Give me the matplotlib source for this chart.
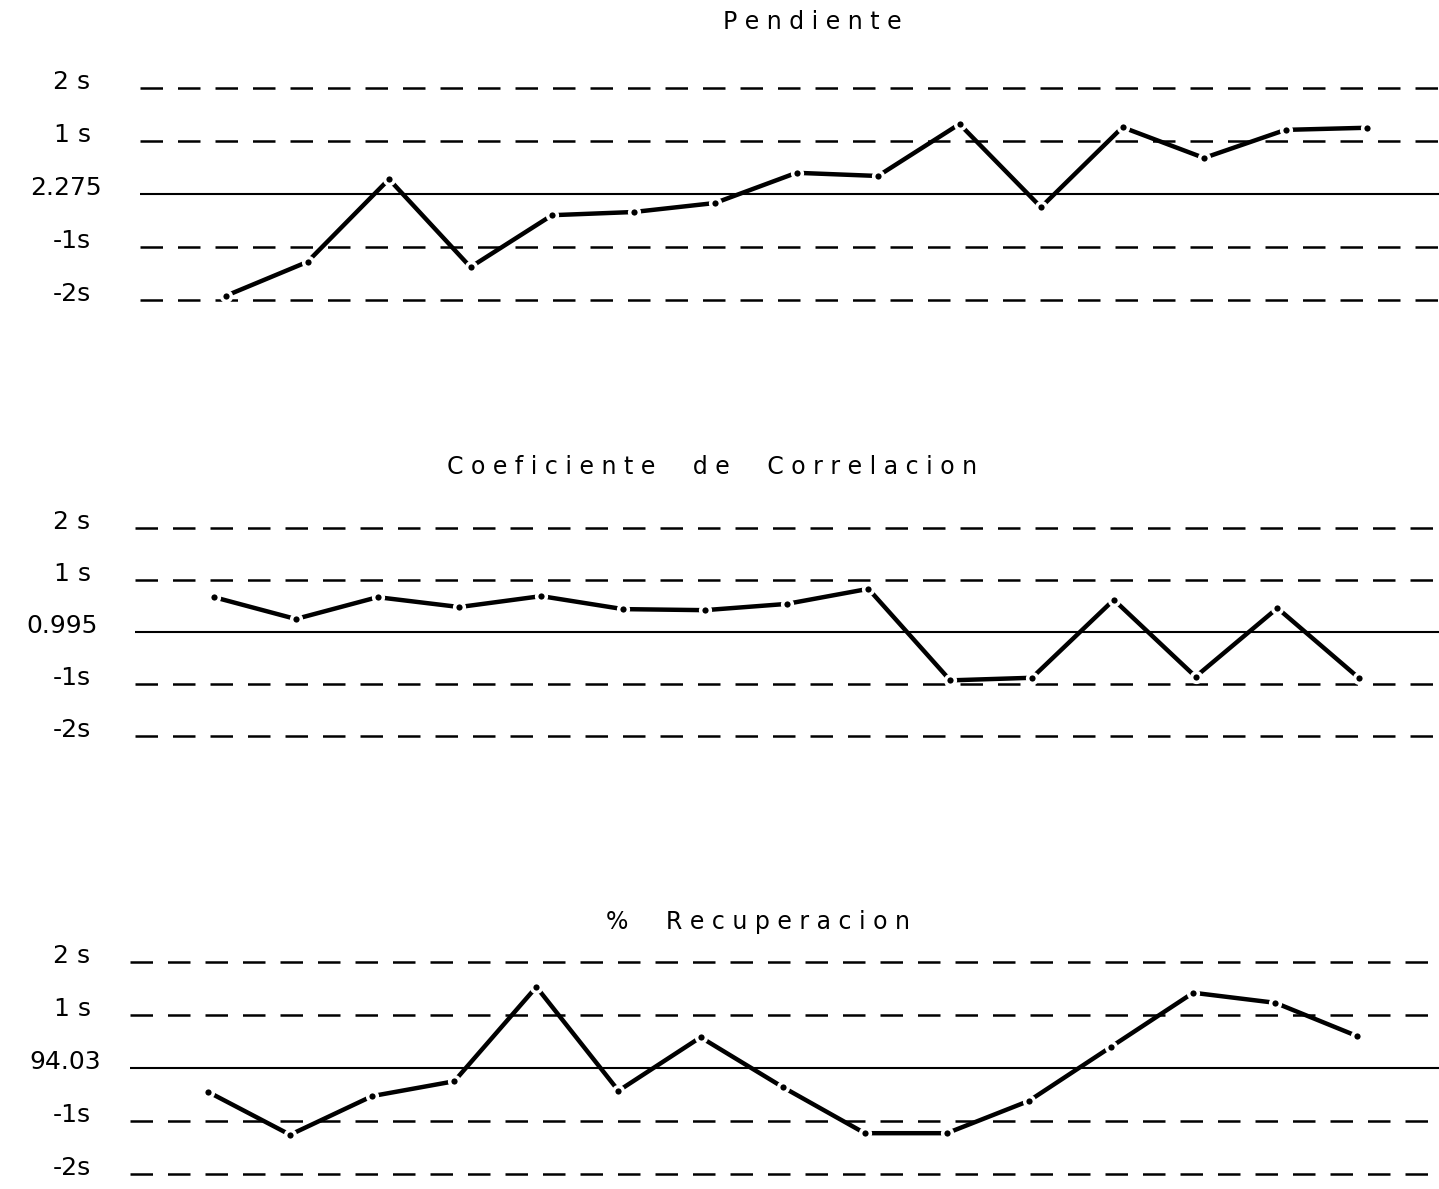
import numpy as np
import matplotlib
matplotlib.use('Agg')
import matplotlib.pyplot as plt
from matplotlib.transforms import blended_transform_factory

# control chart data, in units of s from the mean
puntos = np.arange(1, 16)

pendiente = [-1.92, -1.28, 0.28, -1.38, -0.40, -0.34, -0.17, 0.40, 0.34,
             1.32, -0.25, 1.26, 0.68, 1.21, 1.25]
correlacion = [0.67, 0.25, 0.67, 0.48, 0.69, 0.44, 0.42, 0.54, 0.83,
               -0.93, -0.88, 0.62, -0.86, 0.46, -0.89]
recuperacion = [-0.45, -1.26, -0.53, -0.25, 1.53, -0.43, 0.58, -0.36, -1.23,
                -1.23, -0.62, 0.40, 1.42, 1.23, 0.60]

titulos = ['Pendiente', 'Coeficiente  de  Correlacion', '%  Recuperacion']
medias = ['2.275', '0.995', '94.03']
niveles = [2, 1, -1, -2]
etiquetas_s = ['2 s', '1 s', '-1s', '-2s']

W, H = 1439, 1189
fig = plt.figure(figsize=(W / 100, H / 100), dpi=100)

# panel geometry in pixels: left edge, mean line y, px per s, first x, step, title y
paneles = [
    (140, 194, 53.0, 226, 81.5, 22),
    (135, 632, 52.0, 214, 81.8, 467),
    (130, 1068, 53.0, 208, 82.1, 922),
]
series = [pendiente, correlacion, recuperacion]
titulo_x = [812, 712, 758]
media_x = [102, 98, 101]

for k, (left, ymid, s_px, x0, dx, ty) in enumerate(paneles):
    ylim = 2.2
    h_px = 2 * ylim * s_px
    top = ymid - h_px / 2
    ax = fig.add_axes([left / W, 1 - (top + h_px) / H, (W - left) / W, h_px / H])
    xl = 1 - (x0 - left) / dx
    xr = 1 + (W - x0) / dx
    ax.set_xlim(xl, xr)
    ax.set_ylim(-ylim, ylim)
    ax.axis('off')

    for n in niveles:
        ax.axhline(n, color='black', lw=1.8, dashes=(9, 6))
    ax.axhline(0, color='black', lw=1.5)

    ax.plot(puntos, series[k], color='black', lw=3.2, marker='o', ms=7,
            mfc='black', mec='white', mew=2.5, solid_capstyle='round')

    tr = blended_transform_factory(fig.transFigure, ax.transData)
    for n, lab in zip(niveles, etiquetas_s):
        ax.text(72 / W, n + 0.12, lab, transform=tr, ha='center', va='center',
                fontsize=18, color='black')
    ax.text(media_x[k] / W, 0.12, medias[k], transform=tr, ha='right', va='center',
            fontsize=18, color='black')

    fig.text(titulo_x[k] / W, 1 - ty / H, ' '.join(titulos[k]), ha='center',
             va='center', fontsize=17, color='black')

fig.savefig('out.png', dpi=100, facecolor='white')
